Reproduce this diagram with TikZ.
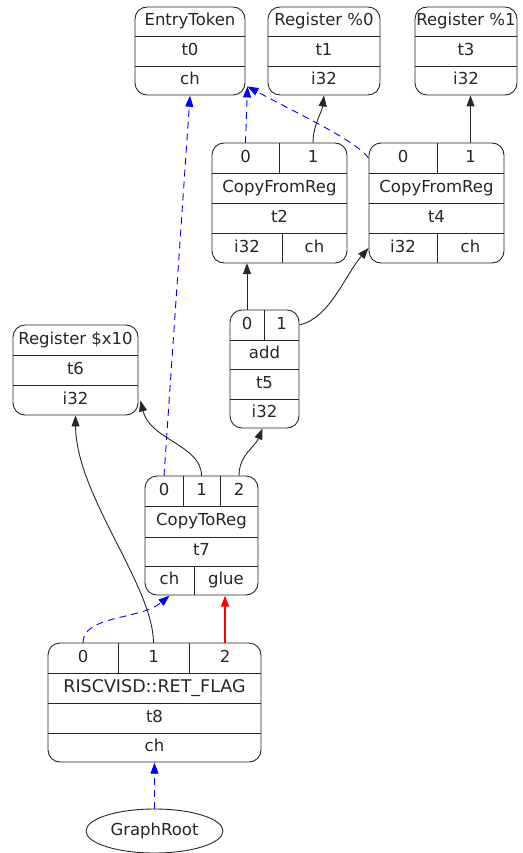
\documentclass[tikz,border=0pt]{standalone}
\usepackage{fontspec}
\setmainfont{DejaVu Sans}
\usetikzlibrary{arrows.meta,shapes.geometric}

\begin{document}
\begin{tikzpicture}[x=1pt,y=-1pt]
\tikzstyle{rec}=[draw, rounded corners=12pt, inner sep=0pt]
\tikzstyle{cell}=[inner sep=0pt, minimum height=29.5pt, text height=12pt, text depth=3.5pt, font=\fontsize{16.5}{18}\selectfont, text=black!85]
\tikzstyle{sep}=[line width=0.9pt]
\tikzstyle{arrow}=[-{Triangle[length=11pt,width=8pt]}, line width=0.9pt]
\tikzstyle{chain}=[arrow, blue, dash pattern=on 7pt off 5pt]
\tikzstyle{glue}=[arrow, red, line width=1.8pt]
\useasboundingbox (0,0) rectangle (522,853);
\tikzset{every path/.style={line width=0.9pt, draw=black!85}}

% EntryToken
\draw node[rec, minimum width=110pt, minimum height=88pt] (t0) at (190,51) {};
\draw node[cell] (t0a) at (190,21.5) {EntryToken};
\draw node[cell, minimum width=110pt] (t0b) at (190,51) {t0};
\draw node[cell, minimum width=110pt] (t0ch) at (190,80.5) {ch};
\draw[sep] (135,36) -- (245,36);
\draw[sep] (135,66) -- (245,66);

% Register %0
\draw node[rec, minimum width=112pt, minimum height=88pt] (t1) at (324,51) {};
\draw node[cell] (t1a) at (324,21.5) {Register \%0};
\draw node[cell] (t1b) at (324,51) {t1};
\draw node[cell] (t1c) at (324,80.5) {i32};
\draw[sep] (268,36) -- (380,36);
\draw[sep] (268,66) -- (380,66);

% Register %1
\draw node[rec, minimum width=102pt, minimum height=88pt] (t3) at (466,51) {};
\draw node[cell] (t3a) at (466,21.5) {Register \%1};
\draw node[cell] (t3b) at (466,51) {t3};
\draw node[cell] (t3c) at (466,80.5) {i32};
\draw[sep] (415,36) -- (517,36);
\draw[sep] (415,66) -- (517,66);

% CopyFromReg t2
\draw node[rec, minimum width=135pt, minimum height=120pt] (t2) at (279.5,203) {};
\draw node[cell, minimum width=67pt] (t2p0) at (245.5,158) {0};
\draw node[cell, minimum width=68pt] (t2p1) at (313,158) {1};
\draw node[cell] (t2a) at (279.5,188) {CopyFromReg};
\draw node[cell] (t2b) at (279.5,218) {t2};
\draw node[cell, minimum width=70pt] (t2i32) at (247,248) {i32};
\draw node[cell, minimum width=65pt] (t2ch) at (314.5,248) {ch};
\draw[sep] (212,173) -- (347,173);
\draw[sep] (212,203) -- (347,203);
\draw[sep] (212,233) -- (347,233);
\draw[sep] (279,143) -- (279,173);
\draw[sep] (282,233) -- (282,263);

% CopyFromReg t4
\draw node[rec, minimum width=135pt, minimum height=120pt] (t4) at (436.5,203) {};
\draw node[cell, minimum width=68pt] (t4p0) at (403,158) {0};
\draw node[cell, minimum width=67pt] (t4p1) at (470.5,158) {1};
\draw node[cell] (t4a) at (436.5,188) {CopyFromReg};
\draw node[cell] (t4b) at (436.5,218) {t4};
\draw node[cell, minimum width=68pt] (t4i32) at (403,248) {i32};
\draw node[cell, minimum width=67pt] (t4ch) at (470.5,248) {ch};
\draw[sep] (369,173) -- (504,173);
\draw[sep] (369,203) -- (504,203);
\draw[sep] (369,233) -- (504,233);
\draw[sep] (437,143) -- (437,173);
\draw[sep] (437,233) -- (437,263);

% Register $x10
\draw node[rec, minimum width=125pt, minimum height=90pt] (t6) at (75.5,370) {};
\draw node[cell] (t6a) at (75.5,340) {Register \$x10};
\draw node[cell] (t6b) at (75.5,370) {t6};
\draw node[cell] (t6c) at (75.5,400) {i32};
\draw[sep] (13,355) -- (138,355);
\draw[sep] (13,385) -- (138,385);

% add t5
\draw node[rec, minimum width=69pt, minimum height=118pt] (t5) at (264.5,369) {};
\draw node[cell, minimum width=34pt] (t5p0) at (247,325) {0};
\draw node[cell, minimum width=35pt] (t5p1) at (281.5,325) {1};
\draw node[cell] (t5a) at (264.5,354.5) {add};
\draw node[cell] (t5b) at (264.5,384) {t5};
\draw node[cell] (t5c) at (264.5,413.5) {i32};
\draw[sep] (230,340) -- (299,340);
\draw[sep] (230,369) -- (299,369);
\draw[sep] (230,399) -- (299,399);
\draw[sep] (264,310) -- (264,340);

% CopyToReg t7
\draw node[rec, minimum width=113pt, minimum height=119pt] (t7) at (201.5,535.5) {};
\draw node[cell, minimum width=38pt] (t7p0) at (164,491) {0};
\draw node[cell, minimum width=37pt] (t7p1) at (201.5,491) {1};
\draw node[cell, minimum width=38pt] (t7p2) at (239,491) {2};
\draw node[cell] (t7a) at (201.5,521.5) {CopyToReg};
\draw node[cell] (t7b) at (201.5,551.5) {t7};
\draw node[cell, minimum width=49pt] (t7ch) at (169.5,580.5) {ch};
\draw node[cell, minimum width=64pt] (t7glue) at (226,580.5) {glue};
\draw[sep] (145,506) -- (258,506);
\draw[sep] (145,537) -- (258,537);
\draw[sep] (145,566) -- (258,566);
\draw[sep] (183,476) -- (183,506);
\draw[sep] (220,476) -- (220,506);
\draw[sep] (194,566) -- (194,595);

% RISCVISD::RET_FLAG t8
\draw node[rec, minimum width=213pt, minimum height=119pt] (t8) at (154.5,702.5) {};
\draw node[cell, minimum width=70pt] (t8p0) at (83,658) {0};
\draw node[cell, minimum width=71pt] (t8p1) at (153.5,658) {1};
\draw node[cell, minimum width=72pt] (t8p2) at (225,658) {2};
\draw node[cell, font=\fontsize{17.5}{19}\selectfont] (t8a) at (154.5,688) {RISCVISD::RET\_FLAG};
\draw node[cell] (t8b) at (154.5,718) {t8};
\draw node[cell, minimum width=213pt] (t8ch) at (154.5,747.5) {ch};
\draw[sep] (48,673) -- (261,673);
\draw[sep] (48,703) -- (261,703);
\draw[sep] (48,733) -- (261,733);
\draw[sep] (118,643) -- (118,673);
\draw[sep] (189,643) -- (189,673);

% GraphRoot
\draw node[draw, ellipse, minimum width=137pt, minimum height=44pt, inner sep=0pt, text=black!85, font=\fontsize{16.5}{18}\selectfont] (root) at (154.5,831) {GraphRoot};

% edges
\draw[chain] (root.north) -- (t8ch.south);
\draw[chain] (t8p0.north) .. controls (83,615) and (140,620) .. (t7ch.south);
\draw[arrow] (t8p1.north) .. controls (153,585) and (76,495) .. (t6.south);
\draw[glue] (t8p2.north) -- (t8p2.north |- t7glue.south);
\draw[chain] (t7p0.north) -- (t0ch.south);
\draw[arrow] (t7p1.north) .. controls (201.5,445) and (150,440) .. ([shift={(2pt,15pt)}]t6.south east);
\draw[arrow] (t7p2.north) .. controls (239,455) and (255,447) .. ([xshift=-2pt]t5.south);
\draw[arrow] (t5p0.north) -- (t5p0.north |- t2i32.south);
\draw[arrow] (t5p1.east) .. controls (330,318) and (345,275) .. (t4i32.west);
\draw[chain] (t2p0.north) -- ([shift={(2pt,9pt)}]t0.south east);
\draw[chain] (t4p0.west) .. controls (355,140) and (300,115) .. ([shift={(2pt,9pt)}]t0.south east);
\draw[arrow] (t2p1.north) .. controls (313,125) and (322,112) .. (t1.south);
\draw[arrow] (t4p1.north) -- (t4p1.north |- t3.south);
\end{tikzpicture}
\end{document}
